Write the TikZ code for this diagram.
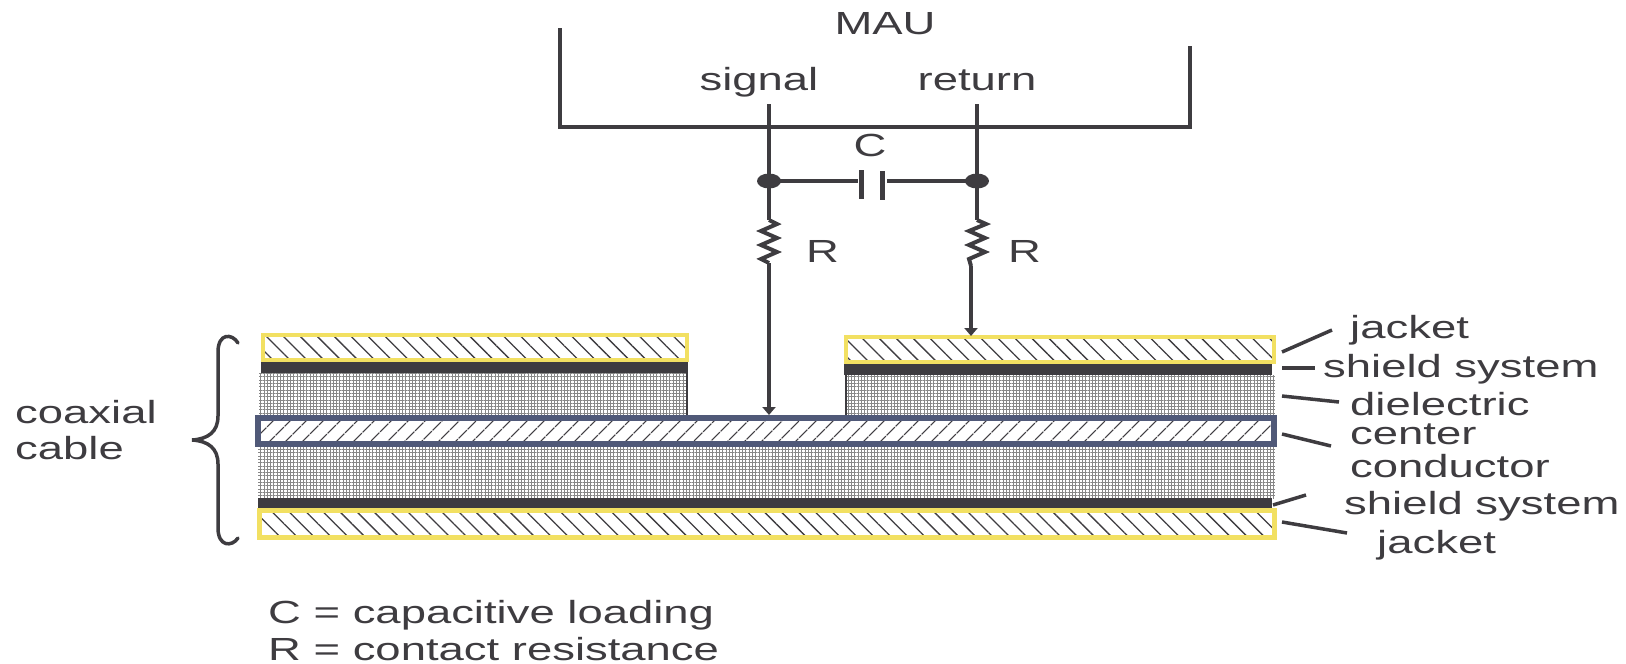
\documentclass[tikz,border=0pt]{standalone}
\usepackage{fontspec}
\setmainfont{Liberation Sans}[FakeStretch=1.42]
\usetikzlibrary{arrows.meta,patterns.meta,shapes.geometric}
\definecolor{ink}{RGB}{62,60,64}
\definecolor{jack}{RGB}{242,224,98}
\definecolor{cond}{RGB}{80,89,120}
\definecolor{diel}{RGB}{135,135,135}
\begin{document}
\begin{tikzpicture}[x=1pt,y=-1pt,
  lbl/.style={font=\fontsize{32}{38}\selectfont, text=ink, inner sep=0pt, anchor=base west},
  clbl/.style={lbl, anchor=base},
  wire/.style={draw=ink, line width=4.5pt},
  thinwire/.style={draw=ink, line width=4pt},
  leader/.style={draw=ink, line width=3.5pt},
  arr/.style={-{Triangle[width=13pt,length=8pt]}},
  dot/.style={ellipse, fill=ink, minimum width=24pt, minimum height=15pt, inner sep=0pt},
  jacketbox/.style={draw=jack, line width=4.5pt, pattern={Lines[angle=-45,distance=12pt,line width=1.3pt]}, pattern color=ink},
  condbox/.style={draw=cond, line width=6pt, pattern={Lines[angle=45,distance=13pt,line width=1.3pt]}, pattern color=ink},
  dielbox/.style={pattern={Hatch[angle=0,distance=3.3pt,line width=0.9pt]}, pattern color=diel},
  shieldbox/.style={fill=ink}
]
\useasboundingbox (0,0) rectangle (1626,664);

% ---------- cable layers ----------
% upper left segment
\path[dielbox] (259,373) rectangle (687,415);
\draw[ink, line width=1.5pt] (687,373) -- (687,415);
\path[shieldbox] (261,362) rectangle (688,373);
\path[jacketbox] (263,335) rectangle (687,360);
% upper right segment
\path[dielbox] (846,375) rectangle (1275,415);
\draw[ink, line width=1.5pt] (846,375) -- (846,415);
\path[shieldbox] (844,364) rectangle (1272,375);
\path[jacketbox] (846,337) rectangle (1274,362);
% lower part
\path[dielbox] (258,447) rectangle (1275,498);
\path[shieldbox] (258,498) rectangle (1272,508);
\path[jacketbox] (259.5,510.5) rectangle (1274.5,537.5);
% center conductor
\path[condbox] (258,418) rectangle (1274,444);

% ---------- MAU ----------
\coordinate (mauL) at (560,28);
\coordinate (mauLb) at (560,127);
\coordinate (mauRb) at (1190,127);
\coordinate (mauR) at (1190,46);
\draw[wire] (mauL) -- (mauLb) -- (mauRb) -- (mauR);
\node[clbl] (mau) at (885,34) {MAU};
\node[clbl] (sig) at (759,90) {signal};
\node[clbl] (ret) at (977,90) {return};

% signal branch
\coordinate (sigT) at (769,104);
\node[dot] (dotL) at (769,181) {};
\coordinate (rL1) at (769,220);
\coordinate (rL2) at (769,263);
\coordinate (sigB) at (769,415);
\draw[wire] (sigT) -- (dotL.center) -- (rL1);
\draw[thinwire, line join=miter] (rL1) -- ++(8,4) -- ++(-16,7) -- ++(16,7) -- ++(-16,7) -- ++(16,7) -- ++(-16,7) -- (rL2);
\draw[wire,arr] (rL2) -- (sigB);
\node[lbl] (RL) at (806,262) {R};

% return branch
\coordinate (retT) at (977,104);
\node[dot] (dotR) at (977,181) {};
\coordinate (rR1) at (977,220);
\coordinate (rR2) at (971,266);
\coordinate (retB) at (971,336);
\draw[wire] (retT) -- (dotR.center) -- (rR1);
\draw[thinwire, line join=miter] (rR1) -- ++(9,4) -- ++(-17,7) -- ++(16,7) -- ++(-16,7) -- ++(16,7) -- ++(-16,7) -- (rR2);
\draw[wire,arr] (rR2) -- (retB);
\node[lbl] (RR) at (1008,262) {R};

% capacitor
\coordinate (cL) at (858,181);
\coordinate (cR) at (887,181);
\coordinate (p1a) at (861,170);
\coordinate (p1b) at (861,199);
\coordinate (p2a) at (882,171);
\coordinate (p2b) at (882,200);
\draw[thinwire] (dotL.center) -- (cL);
\draw[thinwire] (cR) -- (dotR.center);
\draw[draw=ink, line width=5pt] (p1a) -- (p1b);
\draw[draw=ink, line width=5pt] (p2a) -- (p2b);
\node[clbl] (Clbl) at (870,156) {C};

% ---------- brace and left label ----------
\coordinate (brT) at (238,343);
\coordinate (brM) at (192,440);
\coordinate (brB) at (238,538);
\draw[ink, line width=3.5pt, line cap=round]
  (brT) .. controls (232,333) and (218,333) .. (218,352)
  -- (218,416) .. controls (218,432) and (208,439) .. (brM)
  .. controls (208,441) and (218,448) .. (218,464)
  -- (218,528) .. controls (218,547) and (232,547) .. (brB);
\node[lbl] (coax) at (15,423) {coaxial};
\node[lbl] (cable) at (15,459) {cable};

% ---------- right labels ----------
\node[lbl] (tj1) at (1350,338) {jacket};
\node[lbl] (ts1) at (1323,377) {shield system};
\node[lbl] (td) at (1350,415) {dielectric};
\node[lbl] (tc1) at (1350,444) {center};
\node[lbl] (tc2) at (1350,477) {conductor};
\node[lbl] (ts2) at (1344,514) {shield system};
\node[lbl] (tj2) at (1377,553) {jacket};

\coordinate (l1a) at (1282,352); \coordinate (l1b) at (1332,330);
\coordinate (l2a) at (1282,368); \coordinate (l2b) at (1315,368);
\coordinate (l3a) at (1282,396); \coordinate (l3b) at (1339,402);
\coordinate (l4a) at (1282,434); \coordinate (l4b) at (1331,446);
\coordinate (l5a) at (1273,505); \coordinate (l5b) at (1306,495);
\coordinate (l6a) at (1282,522); \coordinate (l6b) at (1347,533);
\draw[leader] (l1a) -- (l1b);
\draw[leader] (l2a) -- (l2b);
\draw[leader] (l3a) -- (l3b);
\draw[leader] (l4a) -- (l4b);
\draw[leader] (l5a) -- (l5b);
\draw[leader] (l6a) -- (l6b);

% ---------- legend ----------
\node[lbl] (leg1) at (268,623) {C = capacitive loading};
\node[lbl] (leg2) at (268,660) {R = contact resistance};
\end{tikzpicture}
\end{document}
